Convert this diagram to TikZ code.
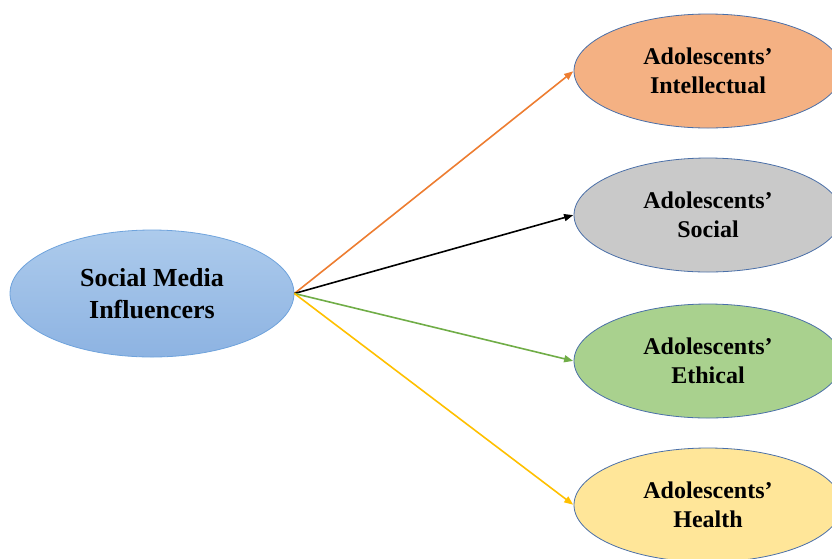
\documentclass[tikz,border=0pt]{standalone}
\usepackage{fontspec}
\setmainfont{Liberation Serif}
\usetikzlibrary{shapes.geometric,arrows.meta}
\definecolor{srcfill}{HTML}{9DC0E8}
\definecolor{srctop}{HTML}{ADCBEC}
\definecolor{srcbot}{HTML}{8DB3E2}
\definecolor{srcline}{HTML}{6FA3DC}
\definecolor{tgtline}{HTML}{4A6FA8}
\definecolor{fillA}{HTML}{F4B183}
\definecolor{fillB}{HTML}{C9C9C9}
\definecolor{fillC}{HTML}{A9D18E}
\definecolor{fillD}{HTML}{FFE699}
\definecolor{arA}{HTML}{ED7D31}
\definecolor{arC}{HTML}{70AD47}
\definecolor{arD}{HTML}{FFC000}
\tikzset{
  srcnode/.style={ellipse, draw=srcline, line width=0.8pt, top color=srctop, bottom color=srcbot,
    minimum width=284pt, minimum height=127pt, inner sep=0pt, align=center,
    font=\fontsize{26}{32}\selectfont\bfseries},
  tgtnode/.style={ellipse, draw=tgtline, line width=0.8pt,
    minimum width=268pt, minimum height=114pt, inner sep=0pt, align=center,
    font=\fontsize{24}{29}\selectfont\bfseries},
  link/.style={line width=1.6pt, -{Triangle[length=9pt,width=7pt]}, shorten >=0.5pt}
}
\begin{document}
\begin{tikzpicture}[x=1pt,y=-1pt]
\useasboundingbox (0,0) rectangle (832,558);
\clip (0,0) rectangle (832,558);
\node[srcnode] (src) at (152,293.5) {Social Media\\Influencers};
\node[tgtnode, fill=fillA] (t1) at (708,71) {Adolescents’\\Intellectual};
\node[tgtnode, fill=fillB] (t2) at (708,215) {Adolescents’\\Social};
\node[tgtnode, fill=fillC] (t3) at (708,361) {Adolescents’\\Ethical};
\node[tgtnode, fill=fillD] (t4) at (708,505) {Adolescents’\\Health};
\draw[link, draw=arA, fill=arA] (src.east) -- (t1.west);
\draw[link, draw=black, fill=black] (src.east) -- (t2.west);
\draw[link, draw=arC, fill=arC] (src.east) -- (t3.west);
\draw[link, draw=arD, fill=arD] (src.east) -- (t4.west);
\end{tikzpicture}
\end{document}
